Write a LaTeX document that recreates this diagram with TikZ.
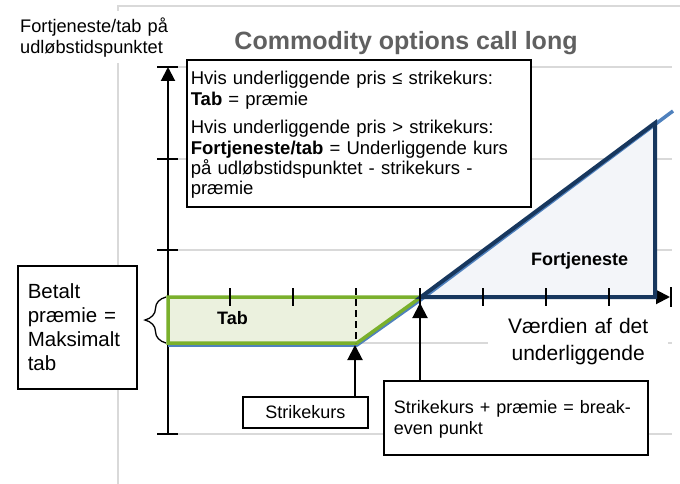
\documentclass[tikz,border=0pt]{standalone}
\usepackage{fontspec}
\setmainfont{Liberation Sans}
\usetikzlibrary{arrows.meta,decorations.pathreplacing}
\definecolor{gridc}{HTML}{D9D9D9}
\definecolor{ttl}{HTML}{606060}
\definecolor{lgreen}{HTML}{7AB02C}
\definecolor{lgreenfill}{HTML}{EBF1DE}
\definecolor{navy}{HTML}{17375E}
\definecolor{navyfill}{HTML}{F3F5F9}
\definecolor{pblue}{HTML}{4F81BD}
\newcommand{\fsz}[2]{\fontsize{#1}{#2}\selectfont}
\begin{document}
\begin{tikzpicture}[x=1pt,y=-1pt,
  gridline/.style={draw=gridc,line width=1.5pt},
  axisline/.style={line width=2pt,-{Triangle[length=14pt,width=14pt]}},
  tickmark/.style={line width=1.8pt},
  box/.style={draw=black,line width=1.6pt,fill=white},
  arr/.style={line width=2pt,-{Triangle[length=15pt,width=15pt]}},
  txt/.style={inner sep=0pt,anchor=base west},
]
\useasboundingbox[fill=white] (0,0) rectangle (680,484);
% chart frame and gridlines
\draw[gridline] (118,484) -- (118,6) -- (680,6);
\foreach \y in {67,159,250,343,434} \draw[gridline] (168,\y) -- (672,\y);
% y label
\node[fill=white,anchor=north west,inner xsep=4pt,inner ysep=0pt,text width=150pt,align=left,
      text height=21pt,text depth=31pt,font=\fsz{18.2}{21}] (ylab) at (16,11)
  {Fortjeneste/tab på\\udløbstidspunktet};
% title
\node[txt,anchor=base,font=\bfseries\fsz{25}{30},text=ttl] (title) at (406,50) {Commodity options call long};
% axes
\draw[axisline] (168,434) -- (168,67);
\draw[axisline] (168,297) -- (670,297);
% profit triangle fill, payoff line, loss area, profit outline
\fill[navyfill] (421,297) -- (655,123) -- (655,297) -- cycle;
\draw[pblue,line width=3.5pt,line join=round] (168,345) -- (357,345) -- (421,299.5) -- (673,111);
\draw[draw=lgreen,fill=lgreenfill,line width=3.5pt] (168,297) -- (421,297) -- (357,343) -- (168,343) -- cycle;
\draw[navy,line width=4pt,line join=miter] (421,297) -- (655,123) -- (655,297) -- cycle;
% ticks
\foreach \x in {230,293,420,483,546,609} \draw[tickmark] (\x,288) -- (\x,306);
\draw[tickmark] (671,287) -- (671,307);
\foreach \y in {67,159,250,434} \draw[tickmark] (157,\y) -- (178,\y);
\draw[tickmark,dash pattern=on 7pt off 4pt] (356,288) -- (356,343);
% labels in chart
\node[txt,font=\bfseries\fsz{18}{21}] (tab) at (217,324) {Tab};
\node[txt,font=\bfseries\fsz{18}{21}] (profit) at (531,265) {Fortjeneste};
\node[fill=white,anchor=north west,inner sep=0pt,text width=180pt,align=center,
      text height=16pt,text depth=33pt,font=\fsz{21}{27}] (value) at (488,317)
  {Værdien af det\\underliggende};
% info box
\node[box,anchor=north west,inner xsep=4pt,inner ysep=0pt,text width=336pt,align=left,
      text height=25pt,text depth=122pt,font=\fsz{18.5}{20.3}] (info) at (186,59)
  {Hvis underliggende pris ≤ strikekurs:\\
   \textbf{Tab} = præmie\\[8.5pt]
   Hvis underliggende pris > strikekurs:\\
   \textbf{Fortjeneste/tab} = Underliggende kurs\\
   på udløbstidspunktet - strikekurs -\\
   præmie};
% premium box and brace
\node[box,anchor=north west,inner xsep=10pt,inner ysep=0pt,text width=99pt,align=left,
      text height=33pt,text depth=90pt,font=\fsz{20.5}{24}] (prem) at (17,265)
  {Betalt\\præmie =\\Maksimalt\\tab};
\coordinate (bracetop) at (166,297);
\coordinate (bracebot) at (166,343);
\draw[line width=1.3pt,decorate,decoration={brace,amplitude=21pt,aspect=0.5}] (bracebot) -- (bracetop);
% strike box
\node[box,anchor=north west,inner sep=0pt,minimum width=125pt,
      text height=22pt,text depth=9pt,font=\fsz{18}{21}] (strike) at (242,396) {Strikekurs};
\coordinate (strikept) at (355,345);
\draw[arr] (strike.north -| strikept) -- (strikept);
% break-even box
\node[box,anchor=north west,inner xsep=10pt,inner ysep=0pt,text width=244pt,align=left,
      text height=33pt,text depth=41pt,font=\fsz{18}{21}] (breakeven) at (383,380)
  {Strikekurs + præmie = break-\\even punkt};
\coordinate (bept) at (420,303);
\draw[arr] (breakeven.north -| bept) -- (bept);
\end{tikzpicture}
\end{document}
